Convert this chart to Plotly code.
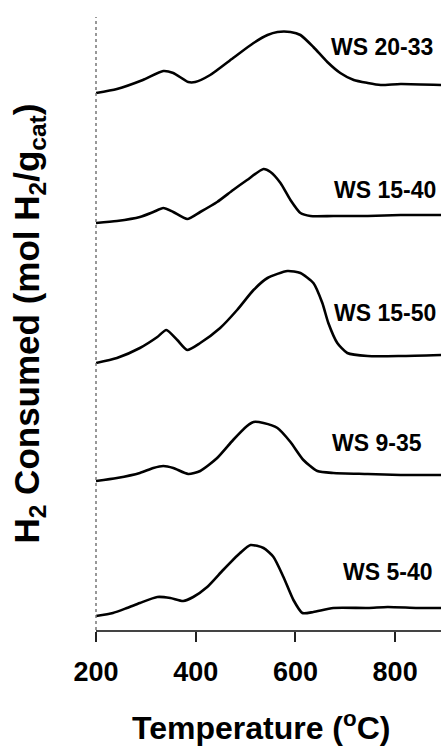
import plotly.graph_objects as go

# Temperature (°C) and signal (a.u.), for each sample
names = ["WS 20-33", "WS 15-40", "WS 15-50", "WS 9-35", "WS 5-40"]

t_20_33 = [200, 242, 294, 335, 355, 385, 399, 429, 475, 516, 544, 564, 590, 610, 636, 664, 690, 717, 745, 771, 811, 892]
y_20_33 = [5.37, 5.41, 5.50, 5.59, 5.57, 5.48, 5.48, 5.55, 5.72, 5.87, 5.95, 5.98, 5.98, 5.95, 5.83, 5.68, 5.57, 5.50, 5.47, 5.45, 5.46, 5.45]

t_15_40 = [200, 242, 288, 315, 335, 355, 383, 409, 443, 475, 503, 536, 550, 570, 590, 610, 630, 676, 745, 811, 892]
y_15_40 = [4.07, 4.09, 4.13, 4.18, 4.22, 4.18, 4.11, 4.18, 4.28, 4.40, 4.50, 4.61, 4.58, 4.47, 4.30, 4.17, 4.14, 4.14, 4.14, 4.15, 4.15]

t_15_50 = [200, 242, 288, 323, 341, 363, 383, 409, 449, 483, 516, 544, 584, 610, 636, 654, 666, 684, 704, 745, 811, 892]
y_15_50 = [2.67, 2.72, 2.82, 2.93, 3.00, 2.90, 2.80, 2.87, 3.02, 3.20, 3.40, 3.52, 3.59, 3.57, 3.47, 3.27, 3.07, 2.87, 2.77, 2.74, 2.74, 2.75]

t_9_35 = [200, 242, 288, 315, 335, 355, 385, 409, 443, 475, 503, 516, 536, 564, 590, 616, 644, 676, 745, 811, 892]
y_9_35 = [1.49, 1.52, 1.57, 1.62, 1.64, 1.62, 1.56, 1.59, 1.72, 1.90, 2.04, 2.08, 2.07, 2.02, 1.88, 1.70, 1.59, 1.57, 1.56, 1.55, 1.55]

t_5_40 = [200, 234, 262, 288, 323, 349, 375, 395, 423, 455, 489, 510, 536, 556, 576, 596, 614, 636, 676, 745, 785, 845, 892]
y_5_40 = [0.14, 0.17, 0.22, 0.27, 0.33, 0.32, 0.29, 0.33, 0.43, 0.60, 0.77, 0.85, 0.82, 0.73, 0.53, 0.30, 0.17, 0.18, 0.22, 0.22, 0.23, 0.22, 0.22]

# label anchor positions (temperature, signal)
label_t = [667, 673, 673, 669, 691]
label_y = [5.83, 4.40, 3.17, 1.87, 0.58]

x_ticks = [200, 400, 600, 800]

series = [(t_20_33, y_20_33), (t_15_40, y_15_40), (t_15_50, y_15_50), (t_9_35, y_9_35), (t_5_40, y_5_40)]

FONT = "Liberation Sans, Arial, sans-serif"

fig = go.Figure()
for name, (tx, ty) in zip(names, series):
    fig.add_trace(go.Scatter(x=tx, y=ty, mode="lines", name=name,
                             line=dict(color="black", width=2.6, shape="spline", smoothing=0.6),
                             showlegend=False))

annotations = []
for name, lt, ly in zip(names, label_t, label_y):
    annotations.append(dict(x=lt, y=ly, xref="x", yref="y", text="<b>%s</b>" % name,
                            showarrow=False, xanchor="left", yanchor="middle",
                            font=dict(family=FONT, size=23, color="black")))

annotations.append(dict(x=-0.197, y=0.50, xref="paper", yref="paper",
                        text="<b>H<sub>2</sub> Consumed (mol H<sub>2</sub>/g<sub>cat</sub>)</b>",
                        textangle=-90, showarrow=False, xanchor="center", yanchor="middle",
                        font=dict(family=FONT, size=35, color="black")))
annotations.append(dict(x=0.478, y=-0.157, xref="paper", yref="paper",
                        text="<b>Temperature (<sup>o</sup>C)</b>",
                        showarrow=False, xanchor="center", yanchor="middle",
                        font=dict(family=FONT, size=32, color="black")))

fig.update_layout(
    width=441, height=748,
    margin=dict(l=96, r=0, t=17, b=118),
    paper_bgcolor="white", plot_bgcolor="white",
    annotations=annotations,
    shapes=[dict(type="line", xref="paper", yref="paper", x0=0, x1=0, y0=0, y1=1,
                 line=dict(color="#777777", width=1.5, dash="dot"))],
)
fig.update_xaxes(range=[200, 892], tickvals=x_ticks, ticktext=["<b>%d</b>" % v for v in x_ticks],
                 ticks="outside", ticklen=10, tickwidth=1.5,
                 tickcolor="#222222", showline=True, linecolor="#444444", linewidth=1.5,
                 showgrid=False, zeroline=False, ticklabelstandoff=7,
                 tickfont=dict(family=FONT, size=27, color="black"))
fig.update_yaxes(range=[0, 6.13], showticklabels=False, showgrid=False, zeroline=False,
                 showline=False, ticks="")

fig.write_html("out.html")
